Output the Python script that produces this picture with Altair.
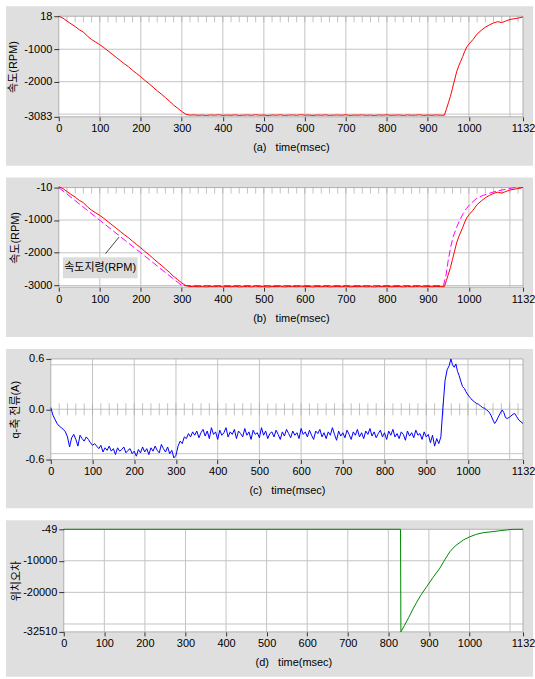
import altair as alt
import pandas as pd

# ---------------- data ----------------
X_TICKS = [0, 100, 200, 300, 400, 500, 600, 700, 800, 900, 1000, 1132]
X_GRID = [100, 200, 300, 400, 500, 600, 700, 800, 900, 1000, 1100]
MINOR_TICKS = list(range(20, 1132, 20))

# measured speed (RPM)
SPEED_T = list(range(0, 941, 10)) + [945, 950, 955, 960, 965, 970, 975, 980, 985, 990, 995, 1000] \
    + list(range(1010, 1131, 10)) + [1132]
SPEED_V = [
    18, -40, -130, -220, -300, -400, -470, -600, -700, -780,
    -860, -950, -1050, -1150, -1250, -1350, -1450, -1540, -1650, -1750,
    -1850, -1960, -2060, -2170, -2280, -2380, -2490, -2600, -2720, -2820,
    -2920, -3005, -3030,
    -3024, -3036, -3028, -3041, -3025, -3033, -3020, -3038, -3029, -3035,
    -3022, -3040, -3031, -3026, -3037, -3019, -3034, -3028, -3042, -3027,
    -3033, -3021, -3039, -3030, -3025, -3036, -3018, -3032, -3029, -3040,
    -3026, -3034, -3023, -3038, -3031, -3027, -3035, -3020, -3039, -3028,
    -3033, -3024, -3037, -3029, -3041, -3026, -3032, -3022, -3036, -3030,
    -3027, -3039, -3025, -3034, -3031, -3021, -3038, -3028, -3035, -3026,
    -3032, -3034,
    -2850, -2650, -2450, -2200, -1950, -1700, -1520, -1370, -1220, -1060, -930, -840,
    -700, -530, -420, -320, -250, -190, -150, -180, -130, -85, -60, -40, -12,
    -3,
]

# speed command (RPM)
CMD_T = [0, 300, 938, 944, 950, 956, 962, 970, 978, 986, 994, 1006, 1018, 1034, 1051, 1067, 1083, 1095, 1108, 1115, 1132]
CMD_V = [-10, -3000, -3000, -2700, -2193, -1800, -1496, -1220, -997, -800, -647, -480, -348, -250, -180, -120, -80, -45, -20, -12, -10]

# q-axis current (A)
CUR_T = list(range(0, 941, 5)) + [945, 950, 955, 959, 963, 967, 971, 975, 979, 983, 987, 991, 995, 1000,
                                   1005, 1010, 1015, 1020, 1025, 1030, 1035, 1040, 1045, 1050, 1055, 1060,
                                   1064, 1068, 1072, 1077, 1082, 1086, 1090, 1094, 1098, 1103, 1108, 1112,
                                   1117, 1122, 1127, 1132]
CUR_V = [
    0.02, -0.07, -0.12, -0.17, -0.20, -0.22, -0.24, -0.27, -0.33, -0.45, -0.34, -0.30, -0.36, -0.44, -0.31, -0.35, -0.38, -0.33, -0.36, -0.40,
    -0.43, -0.41, -0.44, -0.47, -0.43, -0.51, -0.46, -0.49, -0.44, -0.50, -0.47, -0.54, -0.46, -0.50, -0.48, -0.45, -0.52, -0.49, -0.47, -0.53,
    -0.50, -0.56, -0.48, -0.52, -0.45, -0.51, -0.47, -0.54, -0.46, -0.50, -0.44, -0.49, -0.52, -0.42, -0.47, -0.51, -0.45, -0.53, -0.49, -0.58,
    -0.55, -0.44, -0.38, -0.41, -0.33, -0.35, -0.29, -0.33, -0.27, -0.31, -0.26, -0.34, -0.28, -0.24, -0.32, -0.26, -0.35, -0.22, -0.30, -0.27,
    -0.36, -0.25, -0.31, -0.28, -0.22, -0.33, -0.27, -0.30, -0.24, -0.35, -0.26, -0.29, -0.33, -0.23, -0.31, -0.27, -0.36, -0.25, -0.30, -0.28,
    -0.34, -0.22, -0.31, -0.26, -0.35, -0.29, -0.27, -0.33, -0.25, -0.30, -0.36, -0.27, -0.32, -0.24, -0.29, -0.34, -0.26, -0.31, -0.28, -0.35,
    -0.23, -0.30, -0.27, -0.33, -0.25, -0.31, -0.36, -0.26, -0.29, -0.24, -0.33, -0.28, -0.35, -0.27, -0.31, -0.22, -0.30, -0.37, -0.26, -0.32,
    -0.28, -0.34, -0.25, -0.30, -0.36, -0.27, -0.31, -0.24, -0.33, -0.28, -0.35, -0.26, -0.30, -0.23, -0.32, -0.27, -0.34, -0.29, -0.25, -0.33,
    -0.28, -0.36, -0.26, -0.31, -0.24, -0.33, -0.29, -0.35, -0.27, -0.30, -0.37, -0.26, -0.32, -0.28, -0.34, -0.25, -0.31, -0.29, -0.36, -0.27,
    -0.33, -0.30, -0.40, -0.31, -0.44, -0.35, -0.41, -0.33, 0.02,
    0.34, 0.47, 0.52, 0.60, 0.53, 0.50, 0.54, 0.45, 0.40, 0.33, 0.27, 0.25, 0.21, 0.17,
    0.14, 0.11, 0.09, 0.07, 0.06, 0.04, 0.02, 0.01, -0.01, -0.03, -0.07, -0.13,
    -0.17, -0.14, -0.10, -0.05, -0.01, -0.04, -0.10, -0.11, -0.10, -0.08, -0.06, -0.05,
    -0.09, -0.13, -0.15, -0.17,
]

# position error
POS_T = [0, 830, 831, 840, 850, 862, 870, 880, 895, 910, 927, 940, 952, 965, 985, 1000, 1017, 1035, 1058, 1075, 1091, 1100, 1110, 1132]
POS_V = [-49, -49, -32510, -30400, -28000, -24950, -23100, -20900, -18110, -15300, -12340, -9500, -7080, -5300,
         -3420, -2450, -1630, -1100, -780, -500, -270, -120, -60, -49]

# annotation in panel (b)
ANNOT_TEXT = "속도지령(RPM)"
ANNOT_BOX_T = [10, 192]
ANNOT_BOX_V = [-2140, -2776]
ANNOT_LINE_T = [114, 147]
ANNOT_LINE_V = [-2026, -1521]

# ---------------- style ----------------
FONT = "Liberation Sans Narrow, Liberation Sans, Noto Sans CJK KR, sans-serif"
GRAY = "#dfdfdf"
GRID = "#c4c4c4"
BORDER = "#b0b0b0"
MINUS_FIX = "replace(format(datum.value, '{f}'), '\u2212', '-')"
GW = 474  # common group width (all panels share the same origin)


def make_panel(left, H, box, ydom, yvals, ygrid, yfmt, ytitle, ytitle_x, xtitle, series, minor, annot=False):
    W = GW
    xs = alt.Scale(domain=[0, 1132], nice=False, zero=False, range=[left, W])
    ys = alt.Scale(domain=ydom, nice=False, zero=False)
    xaxis = alt.Axis(values=X_TICKS, format="d", title=xtitle, titleX=(left + W) / 2, titleY=31,
                     titleBaseline="middle", titleAlign="center", tickSize=4, labelPadding=2,
                     labelFlush=False, labelOverlap=False, domain=False, grid=False, zindex=1)
    yaxis = alt.Axis(values=yvals, title=ytitle, titleX=ytitle_x, titleY=H / 2, titleAngle=270,
                     titleBaseline="middle", titleAlign="center", tickSize=5, labelPadding=2,
                     labelOverlap=False, labelExpr=MINUS_FIX.format(f=yfmt), offset=-left,
                     domain=False, grid=False, zindex=1)

    def X(field="t"):
        return alt.X(f"{field}:Q", scale=xs, axis=xaxis)

    def Y(field="v"):
        return alt.Y(f"{field}:Q", scale=ys, axis=yaxis)

    one = pd.DataFrame({"a": [0]})
    L, R, T, B = box
    layers = [
        alt.Chart(one).mark_rect(color=GRAY).encode(
            x=alt.value(L), x2=alt.value(R), y=alt.value(T), y2=alt.value(B)),
        alt.Chart(one).mark_rect(fill="white").encode(
            x=alt.value(left), x2=alt.value(W), y=alt.value(0), y2=alt.value(H)),
        alt.Chart(pd.DataFrame({"v": ygrid})).mark_rule(color=GRID, strokeWidth=1).encode(
            y=Y(), x=alt.value(left), x2=alt.value(W)),
        alt.Chart(pd.DataFrame({"t": X_GRID})).mark_rule(color=GRID, strokeWidth=1).encode(x=X()),
        alt.Chart(one).mark_rect(fill=None, stroke=BORDER, strokeWidth=1).encode(
            x=alt.value(left), x2=alt.value(W), y=alt.value(0), y2=alt.value(H)),
    ]
    if minor == "top":
        layers.append(alt.Chart(pd.DataFrame({"t": MINOR_TICKS})).mark_tick(
            size=6, thickness=1, color="#a8a8a8").encode(x=X(), y=alt.value(3)))
    elif minor == "zero":
        layers.append(alt.Chart(pd.DataFrame({"t": MINOR_TICKS})).mark_tick(
            size=12, thickness=1, color="#a8a8a8").encode(x=X(), y=alt.datum(0)))
    if annot:
        layers.append(alt.Chart(pd.DataFrame({"t": [ANNOT_BOX_T[0]], "t2": [ANNOT_BOX_T[1]],
                                              "v": [ANNOT_BOX_V[0]], "v2": [ANNOT_BOX_V[1]]}))
                      .mark_rect(color="#dcdcdc").encode(x=X(), x2="t2:Q", y=Y(), y2="v2:Q"))
        layers.append(alt.Chart(pd.DataFrame({"t": [ANNOT_LINE_T[0]], "t2": [ANNOT_LINE_T[1]],
                                              "v": [ANNOT_LINE_V[0]], "v2": [ANNOT_LINE_V[1]]}))
                      .mark_rule(color="#444444", strokeWidth=1).encode(x=X(), x2="t2:Q", y=Y(), y2="v2:Q"))
        layers.append(alt.Chart(pd.DataFrame({"t": [sum(ANNOT_BOX_T) / 2], "v": [sum(ANNOT_BOX_V) / 2],
                                              "label": [ANNOT_TEXT]}))
                      .mark_text(font=FONT, fontSize=11, color="#000000", baseline="middle", align="center")
                      .encode(x=X(), y=Y(), text="label:N"))
    for (ts, vs, color, dash) in series:
        df = pd.DataFrame({"t": ts, "v": vs})
        kw = dict(color=color, strokeWidth=1)
        if dash:
            kw["strokeDash"] = dash
        layers.append(alt.Chart(df).mark_line(**kw).encode(x=X(), y=Y(), order="t:Q"))
    return alt.layer(*layers).properties(width=W, height=H)


NB = "\u00a0"
BOX = (-45, 484)
pa = make_panel(8, 101, BOX + (-10, 150), [-3083, 18], [18, -1000, -2000, -3083],
                [-1000, -2000, -3000], "d", "속도(RPM)", -45, f"(a){NB*3}time(msec)",
                [(SPEED_T, SPEED_V, "#ff0000", None)], "top")
pb = make_panel(8, 100, BOX + (-10, 150), [-3050, -10], [-10, -1000, -2000, -3000],
                [-1000, -2000, -3000], "d", "속도(RPM)", -43, f"(b){NB*3}time(msec)",
                [(CMD_T, CMD_V, "#ff00ff", [7, 3]), (SPEED_T, SPEED_V, "#ff0000", None)], "top", annot=True)
pc = make_panel(0, 101, BOX + (-10, 150), [-0.6, 0.6], [0.6, 0.0, -0.6],
                [0.53, 0.0, -0.53], ".1f", "q-축 전류(A)", -35, f"(c){NB*3}time(msec)",
                [(CUR_T, CUR_V, "#0000ff", None)], "zero")
pd_ = make_panel(13, 103, BOX + (-9, 148), [-32510, -49], [-49, -10000, -20000, -32510],
                 [-10000, -20000, -30000], "d", "위치오차", -47, f"(d){NB*3}time(msec)",
                 [(POS_T, POS_V, "#008800", None)], None)

chart = alt.concat(pa, pb, pc, pd_, columns=1, spacing=12, bounds="full").properties(
    padding={"left": 6, "top": 5, "right": 0, "bottom": 0},
    background="white",
).configure_view(stroke=None).configure_axis(
    labelFont=FONT, labelFontSize=11, labelColor="#000000",
    titleFont=FONT, titleFontSize=11, titleFontWeight="normal", titleColor="#000000",
    tickColor="#333333", tickWidth=1,
)

chart.save("out.html", embed_options={"renderer": "svg", "actions": False})
